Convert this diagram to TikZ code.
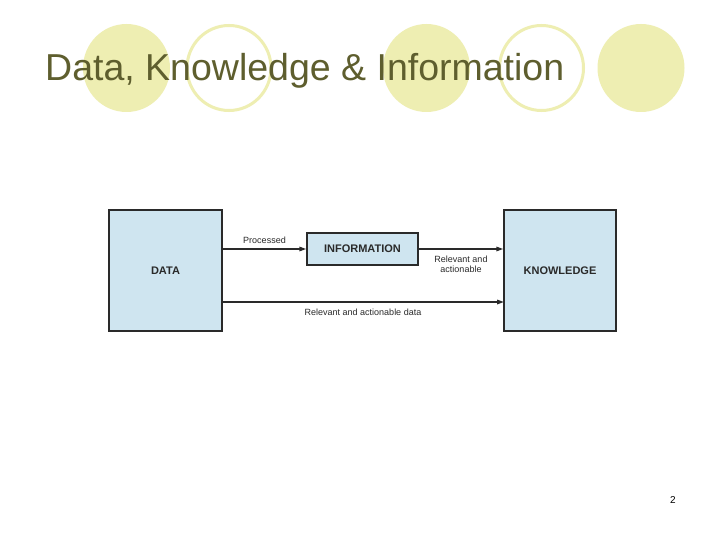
\documentclass[tikz,border=0pt]{standalone}
\usepackage{fontspec}
\setmainfont{Liberation Sans}
\usetikzlibrary{arrows.meta}
\definecolor{dotfill}{HTML}{EEEEB2}
\definecolor{titlecol}{HTML}{5E5E2E}
\definecolor{boxfill}{HTML}{CFE5F0}
\definecolor{linecol}{HTML}{2A2A2A}
\tikzset{
  dotf/.style={fill=dotfill, draw=none},
  doto/.style={draw=dotfill, line width=3pt, fill=white},
  box/.style={draw=linecol, line width=1.5pt, fill=boxfill, inner sep=0pt, font=\fontsize{11}{13}\selectfont\bfseries, text=linecol},
  conn/.style={draw=linecol, line width=1.5pt, -{Triangle[length=7pt,width=4.5pt]}},
  lbl/.style={font=\fontsize{9}{10.5}\selectfont, text=linecol, inner sep=0pt},
}
\begin{document}
\begin{tikzpicture}[x=1pt,y=-1pt]
\useasboundingbox (0,0) rectangle (720,540);
\fill[white] (0,0) rectangle (720,540);
% decorative circles
\path[dotf] (126.5,68) ellipse (43.5 and 44);
\path[doto] (229,68) ellipse (42 and 42.5);
\path[dotf] (426.5,68) ellipse (43.5 and 44);
\path[doto] (541.5,68) ellipse (42 and 42.5);
\path[dotf] (641,68) ellipse (43.5 and 44);
% title
\node[anchor=base west, inner sep=0pt, text=titlecol, font=\fontsize{37.5}{40}\selectfont] (title) at (45,81) {Data, Knowledge \& Information};
% boxes
\node[box, minimum width=113pt, minimum height=121pt] (data) at (165.5,270.5) {DATA};
\node[box, minimum width=111pt, minimum height=32pt] (info) at (362.5,249) {INFORMATION};
\node[box, minimum width=112pt, minimum height=121pt] (know) at (560,270.5) {KNOWLEDGE};
% connectors
\coordinate (d1) at (data.east |- info.west);
\coordinate (k1) at (know.west |- info.east);
\draw[conn] (d1) -- (info.west) node[lbl, midway, above=5pt] (l1) {Processed};
\draw[conn] (info.east) -- (k1) node[lbl, midway, below=6pt, align=center] (l2) {Relevant and\\actionable};
\coordinate (d2) at (222,302);
\coordinate (k2) at (504,302);
\draw[conn] (d2) -- (k2) node[lbl, midway, below=6pt] (l3) {Relevant and actionable data};
% page number
\node[font=\fontsize{10}{12}\selectfont, inner sep=0pt] (pg) at (673,500) {2};
\end{tikzpicture}
\end{document}
